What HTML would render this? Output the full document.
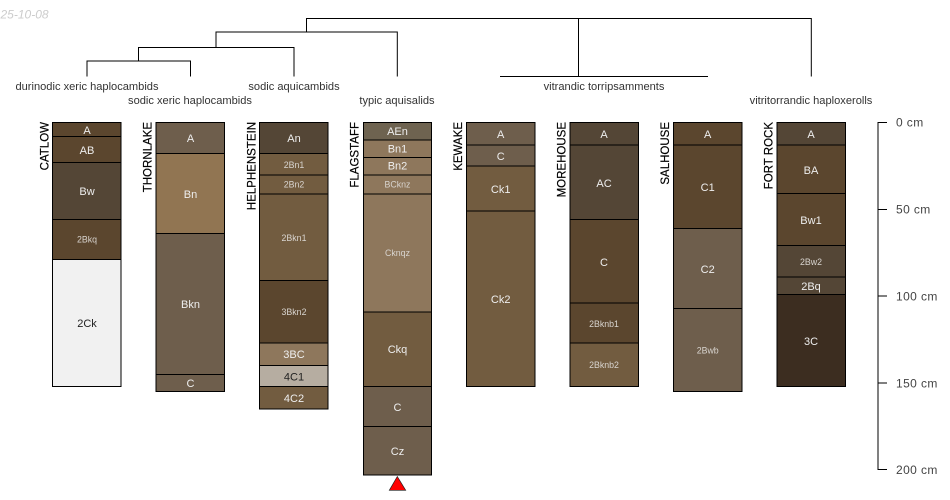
<!DOCTYPE html>
<html><head><meta charset="utf-8"><style>
html,body{margin:0;padding:0;background:#fff;width:950px;height:500px;overflow:hidden}
svg{display:block;font-family:"Liberation Sans",sans-serif}
.r{stroke:#000;stroke-width:1}
.t{text-anchor:middle;font-size:11px;fill:#eee}
.s{font-size:8.8px;fill:#d8d4cf}
.n{font-size:11.5px;fill:#000;text-anchor:end;stroke:#000;stroke-width:.2}
.l{text-anchor:middle;font-size:11.1px;fill:#333}
.d{font-size:12px;fill:#444;letter-spacing:.4px}
</style></head><body>
<svg width="950" height="500" viewBox="0 0 950 500" xmlns="http://www.w3.org/2000/svg">
<text x="0.500" y="18.500" font-size="12" font-style="italic" fill="#ccc">25-10-08</text>

<g fill="none" stroke="#000" stroke-width="1">
<path d="M306.500 32V18.500H811.300V76.500"/>
<path d="M397.300 76.500V32H216V47.500"/>
<path d="M294 76.500V47.500H138.500V61"/>
<path d="M87 76.500V61H190.500V76.500"/>
<path d="M578.500 18.500V76.500"/>
<path d="M500 76.500H708"/>
</g>
<text class="l" x="87" y="90">durinodic xeric haplocambids</text>
<text class="l" x="190" y="104">sodic xeric haplocambids</text>
<text class="l" x="294" y="90">sodic aquicambids</text>
<text class="l" x="397" y="104">typic aquisalids</text>
<text class="l" x="604" y="90">vitrandic torripsamments</text>
<text class="l" x="811" y="104">vitritorrandic haploxerolls</text>

<!-- CATLOW -->
<g class="r">
<rect x="52.500" y="122.500" width="68.500" height="14" fill="#5b462e"/>
<rect x="52.500" y="136.500" width="68.500" height="26" fill="#5b462e"/>
<rect x="52.500" y="162.500" width="68.500" height="57" fill="#544636"/>
<rect x="52.500" y="219.500" width="68.500" height="40" fill="#5b462e"/>
<rect x="52.500" y="259.500" width="68.500" height="127" fill="#f1f1f1"/>
</g>
<text class="n" transform="translate(48.300,122) rotate(-90)">CATLOW</text>
<text class="t" x="87" y="134">A</text>
<text class="t" x="87" y="154">AB</text>
<text class="t" x="87" y="195">Bw</text>
<text class="t s" x="87" y="242.500">2Bkq</text>
<text class="t" x="87" y="327" style="fill:#222">2Ck</text>

<!-- THORNLAKE -->
<g class="r">
<rect x="156" y="122.500" width="68.500" height="31" fill="#6e5e4c"/>
<rect x="156" y="153.500" width="68.500" height="80" fill="#917552"/>
<rect x="156" y="233.500" width="68.500" height="141" fill="#6e5e4c"/>
<rect x="156" y="374.500" width="68.500" height="17" fill="#6e5e4c"/>
</g>
<text class="n" transform="translate(151.300,122) rotate(-90)">THORNLAKE</text>
<text class="t" x="190.500" y="142">A</text>
<text class="t" x="190.500" y="198">Bn</text>
<text class="t" x="190.500" y="308">Bkn</text>
<text class="t" x="190.500" y="387">C</text>

<!-- HELPHENSTEIN -->
<g class="r">
<rect x="259.500" y="122.500" width="68.500" height="31" fill="#544636"/>
<rect x="259.500" y="153.500" width="68.500" height="21.500" fill="#725c40"/>
<rect x="259.500" y="175" width="68.500" height="19" fill="#725c40"/>
<rect x="259.500" y="194" width="68.500" height="86.500" fill="#725c40"/>
<rect x="259.500" y="280.500" width="68.500" height="62.500" fill="#5b462e"/>
<rect x="259.500" y="343" width="68.500" height="22.500" fill="#8e775c"/>
<rect x="259.500" y="365.500" width="68.500" height="21" fill="#b6ada1"/>
<rect x="259.500" y="386.500" width="68.500" height="22.500" fill="#725c40"/>
</g>
<text class="n" transform="translate(255.500,122) rotate(-90)">HELPHENSTEIN</text>
<text class="t" x="294" y="142">An</text>
<text class="t s" x="294" y="168">2Bn1</text>
<text class="t s" x="294" y="187.500">2Bn2</text>
<text class="t s" x="294" y="241">2Bkn1</text>
<text class="t s" x="294" y="315">3Bkn2</text>
<text class="t" x="294" y="358">3BC</text>
<text class="t" x="294" y="380.500" style="fill:#222">4C1</text>
<text class="t" x="294" y="402">4C2</text>

<!-- FLAGSTAFF -->
<g class="r">
<rect x="363.500" y="122.500" width="68" height="17.500" fill="#6e6350"/>
<rect x="363.500" y="140" width="68" height="17.500" fill="#8e775c"/>
<rect x="363.500" y="157.500" width="68" height="17.500" fill="#8e775c"/>
<rect x="363.500" y="175" width="68" height="19" fill="#8e775c"/>
<rect x="363.500" y="194" width="68" height="118" fill="#8e775c"/>
<rect x="363.500" y="312" width="68" height="74.500" fill="#725c40"/>
<rect x="363.500" y="386.500" width="68" height="40" fill="#6e5e4c"/>
<rect x="363.500" y="426.500" width="68" height="48.500" fill="#6e5e4c"/>
</g>
<text class="n" transform="translate(358.500,122) rotate(-90)">FLAGSTAFF</text>
<text class="t" x="397.500" y="135">AEn</text>
<text class="t" x="397.500" y="152.500">Bn1</text>
<text class="t" x="397.500" y="169.500">Bn2</text>
<text class="t s" x="397.500" y="187.500">BCknz</text>
<text class="t s" x="397.500" y="256">Cknqz</text>
<text class="t" x="397.500" y="353">Ckq</text>
<text class="t" x="397.500" y="411">C</text>
<text class="t" x="397.500" y="455">Cz</text>
<polygon points="397.300,476.500 389.300,490.300 405.700,490.300" fill="#f00" stroke="#222" stroke-width=".7"/>

<!-- KEWAKE -->
<g class="r">
<rect x="466.500" y="122.500" width="68.500" height="22.500" fill="#6e5e4c"/>
<rect x="466.500" y="145" width="68.500" height="21" fill="#6e5e4c"/>
<rect x="466.500" y="166" width="68.500" height="45" fill="#725c40"/>
<rect x="466.500" y="211" width="68.500" height="175.500" fill="#725c40"/>
</g>
<text class="n" transform="translate(462,122) rotate(-90)">KEWAKE</text>
<text class="t" x="500.700" y="138">A</text>
<text class="t" x="500.700" y="160">C</text>
<text class="t" x="500.700" y="193">Ck1</text>
<text class="t" x="500.700" y="303">Ck2</text>

<!-- MOREHOUSE -->
<g class="r">
<rect x="570" y="122.500" width="68.500" height="22.500" fill="#544636"/>
<rect x="570" y="145" width="68.500" height="74.500" fill="#544636"/>
<rect x="570" y="219.500" width="68.500" height="83.500" fill="#5b462e"/>
<rect x="570" y="303" width="68.500" height="40" fill="#5b462e"/>
<rect x="570" y="343" width="68.500" height="43.500" fill="#725c40"/>
</g>
<text class="n" transform="translate(565.700,122) rotate(-90)">MOREHOUSE</text>
<text class="t" x="604" y="138">A</text>
<text class="t" x="604" y="187">AC</text>
<text class="t" x="604" y="266">C</text>
<text class="t s" x="604" y="327">2Bknb1</text>
<text class="t s" x="604" y="368">2Bknb2</text>

<!-- SALHOUSE -->
<g class="r">
<rect x="673.500" y="122.500" width="68.500" height="22.500" fill="#5b462e"/>
<rect x="673.500" y="145" width="68.500" height="83.500" fill="#5b462e"/>
<rect x="673.500" y="228.500" width="68.500" height="80" fill="#6e5e4c"/>
<rect x="673.500" y="308.500" width="68.500" height="83" fill="#6e5e4c"/>
</g>
<text class="n" transform="translate(669,122) rotate(-90)">SALHOUSE</text>
<text class="t" x="707.700" y="138">A</text>
<text class="t" x="707.700" y="191">C1</text>
<text class="t" x="707.700" y="273">C2</text>
<text class="t s" x="707.700" y="353.500">2Bwb</text>

<!-- FORT ROCK -->
<g class="r">
<rect x="777" y="122.500" width="68.500" height="22.500" fill="#544636"/>
<rect x="777" y="145" width="68.500" height="48.500" fill="#5b462e"/>
<rect x="777" y="193.500" width="68.500" height="52" fill="#5b462e"/>
<rect x="777" y="245.500" width="68.500" height="31.500" fill="#544636"/>
<rect x="777" y="277" width="68.500" height="17.500" fill="#544636"/>
<rect x="777" y="294.500" width="68.500" height="92" fill="#3c2d20"/>
</g>
<text class="n" transform="translate(772.700,122) rotate(-90)">FORT ROCK</text>
<text class="t" x="811" y="138">A</text>
<text class="t" x="811" y="174">BA</text>
<text class="t" x="811" y="224">Bw1</text>
<text class="t s" x="811" y="265">2Bw2</text>
<text class="t" x="811" y="290">2Bq</text>
<text class="t" x="811" y="345">3C</text>

<!-- Scale -->
<path d="M887 122.500H878V469.500H887M878 209.500H887M878 296H887M878 383H887" fill="none" stroke="#000" stroke-width="1"/>
<text class="d" x="896" y="126.500">0 cm</text>
<text class="d" x="896" y="213.500">50 cm</text>
<text class="d" x="896" y="300.500">100 cm</text>
<text class="d" x="896" y="387.500">150 cm</text>
<text class="d" x="896" y="474">200 cm</text>
</svg>
</body></html>
